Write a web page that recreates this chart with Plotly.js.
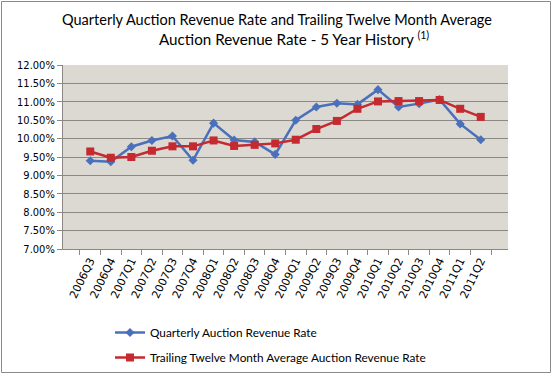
<!DOCTYPE html>
<html>
<head>
<meta charset="utf-8">
<script src="https://cdn.plot.ly/plotly-3.0.1.min.js"></script>
<style>
html, body { margin: 0; padding: 0; background: #ffffff; }
#chart { width: 554px; height: 376px; }
</style>
</head>
<body>
<div id="chart"></div>
<script>
const quarters = ["2006Q3","2006Q4","2007Q1","2007Q2","2007Q3","2007Q4","2008Q1","2008Q2","2008Q3","2008Q4","2009Q1","2009Q2","2009Q3","2009Q4","2010Q1","2010Q2","2010Q3","2010Q4","2011Q1","2011Q2"];
const quarterlyRate = [9.40, 9.37, 9.78, 9.95, 10.07, 9.41, 10.42, 9.96, 9.91, 9.57, 10.50, 10.86, 10.96, 10.93, 11.33, 10.86, 10.95, 11.06, 10.40, 9.97];
const ttmRate = [9.65, 9.48, 9.50, 9.67, 9.79, 9.79, 9.95, 9.80, 9.83, 9.87, 9.97, 10.26, 10.48, 10.81, 11.01, 11.02, 11.02, 11.05, 10.81, 10.59];
const yTicks = [7, 7.5, 8, 8.5, 9, 9.5, 10, 10.5, 11, 11.5, 12];
const yTickText = ["7.00%", "7.50%", "8.00%", "8.50%", "9.00%", "9.50%", "10.00%", "10.50%", "11.00%", "11.50%", "12.00%"];
const seriesNames = ["Quarterly Auction Revenue Rate", "Trailing Twelve Month Average Auction Revenue Rate"];
const titleLine1 = "Quarterly Auction Revenue Rate and Trailing Twelve Month Average";
const titleLine2 = "Auction Revenue Rate - 5 Year History <sup>(1)</sup>";

const blue = "#4A70BC";
const red = "#C42A2F";

const traces = [
  {
    x: quarters, y: quarterlyRate, name: seriesNames[0], type: "scatter", mode: "lines+markers",
    line: {color: blue, width: 2.5},
    marker: {symbol: "diamond", size: 7, color: blue},
    legend: "legend"
  },
  {
    x: quarters, y: ttmRate, name: seriesNames[1], type: "scatter", mode: "lines+markers",
    line: {color: red, width: 2.5},
    marker: {symbol: "square", size: 8, color: red},
    legend: "legend2"
  }
];

// plot area in pixels: x 63..508, y 65..249
const CW = 554, CH = 376;
const L = 63, R = 508, T = 65, B = 249;
const W = R - L, H = B - T;
const px = v => (v - L) / W;
const py = v => (B - v) / H;

const legendFont = {family: "Lato, 'Open Sans', sans-serif", size: 11.8, color: "#000"};
const titleFont = {family: "Lato, 'Open Sans', sans-serif", size: 14.5, color: "#000"};
const titleFont2 = {family: "Lato, 'Open Sans', sans-serif", size: 15.2, color: "#000"};

const layout = {
  width: CW, height: CH,
  margin: {l: L, r: CW - R, t: T, b: CH - B, pad: 0, autoexpand: false},
  paper_bgcolor: "#ffffff",
  plot_bgcolor: "#DBD9D2",
  showlegend: true,
  xaxis: {
    type: "category",
    automargin: false,
    showgrid: false,
    showline: true, linecolor: "#8C8884", linewidth: 1,
    ticks: "outside", tickson: "boundaries", ticklen: 5, tickcolor: "#8C8884",
    tickangle: -64,
    tickfont: {family: "'DejaVu Sans', sans-serif", size: 11, color: "#000"},
    zeroline: false,
    fixedrange: true
  },
  yaxis: {
    range: [7, 12],
    automargin: false,
    tickmode: "array",
    tickvals: yTicks,
    ticktext: yTickText,
    showgrid: true, gridcolor: "#8C8884", gridwidth: 1,
    showline: true, linecolor: "#8C8884", linewidth: 1,
    ticks: "outside", ticklen: 5, tickcolor: "#8C8884",
    tickfont: {family: "'DejaVu Sans Condensed', 'DejaVu Sans', sans-serif", size: 11, color: "#000"},
    zeroline: false,
    fixedrange: true
  },
  legend: {
    x: px(110), y: py(318), xanchor: "left", yanchor: "top",
    bgcolor: "rgba(0,0,0,0)", borderwidth: 0, itemwidth: 30,
    font: legendFont
  },
  legend2: {
    x: px(110), y: py(343), xanchor: "left", yanchor: "top",
    bgcolor: "rgba(0,0,0,0)", borderwidth: 0, itemwidth: 30,
    font: legendFont
  },
  annotations: [
    {text: titleLine1, xref: "paper", yref: "paper", x: px(277), y: py(20), xanchor: "center", yanchor: "middle",
     showarrow: false, font: titleFont},
    {text: titleLine2, xref: "paper", yref: "paper", x: px(294), y: py(38), xanchor: "center", yanchor: "middle",
     showarrow: false, font: titleFont2}
  ],
  shapes: [
    {type: "rect", xref: "paper", yref: "paper", x0: px(1.5), x1: px(550.5), y0: py(372.5), y1: py(1.5),
     line: {color: "#8A8A8A", width: 1}, fillcolor: "rgba(0,0,0,0)", layer: "below"}
  ]
};

Plotly.newPlot("chart", traces, layout, {displayModeBar: false, staticPlot: true});
</script>
</body>
</html>
